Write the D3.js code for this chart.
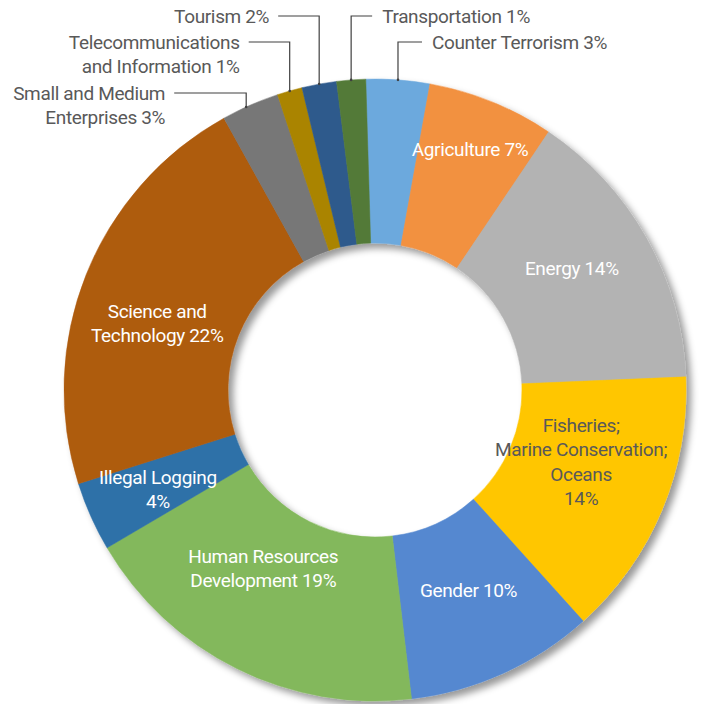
<!DOCTYPE html>
<html>
<head>
<meta charset="utf-8">
<script src="https://cdn.jsdelivr.net/npm/d3@7"></script>
<style>
  html, body { margin: 0; padding: 0; background: #fff; }
  svg { display: block; }
  text { font-family: Roboto, "Open Sans", sans-serif; font-size: 19px; letter-spacing: -0.35px; }
</style>
</head>
<body>
<script>
'use strict';

// slice order clockwise from the top
const categories = [
  'Counter Terrorism', 'Agriculture', 'Energy',
  'Fisheries; Marine Conservation; Oceans', 'Gender',
  'Human Resources Development', 'Illegal Logging', 'Science and Technology',
  'Small and Medium Enterprises', 'Telecommunications and Information',
  'Tourism', 'Transportation'
];
// shares (angles), labels keep the rounded figures
const shares = [3.3, 6.6, 14.9, 14.0, 9.8, 18.4, 3.6, 21.8, 3.0, 1.3, 1.8, 1.5];
const shownPct = [3, 7, 14, 14, 10, 19, 4, 22, 3, 1, 2, 1];
const labelLines = [
  ['Counter Terrorism 3%'],
  ['Agriculture 7%'],
  ['Energy 14%'],
  ['Fisheries;', 'Marine Conservation;', 'Oceans', '14%'],
  ['Gender 10%'],
  ['Human Resources', 'Development 19%'],
  ['Illegal Logging', '4%'],
  ['Science and', 'Technology 22%'],
  ['Small and Medium', 'Enterprises 3%'],
  ['Telecommunications', 'and Information 1%'],
  ['Tourism 2%'],
  ['Transportation 1%']
];
const colors = [
  '#6ca9dd', '#f29141', '#b3b3b3', '#ffc600', '#5588d0', '#83b85c',
  '#2e71a8', '#ae5b0e', '#777777', '#aa8400', '#2f5a8c', '#527a38'
];

const width = 708, height = 704;
const cx = 375, cy = 390;
const outerR = 311, innerR = 147;
const lineH = 24.5;
const startDeg = -1.7;

// label placement (layout only)
const insideNudge = {
  1: [9, -28], 2: [-3, -10], 3: [-5, -17], 4: [-1, -8], 5: [-10, -27],
  6: [-8, 6], 7: [-5, 18]
};
const darkInside = { 3: true };
const outside = {
  0: { y: 42, side: 'right', gap: 34 },
  11: { y: 16, side: 'right', gap: 31 },
  10: { y: 16, side: 'left', gap: 50 },
  9: { y: 42, side: 'left', gap: 50 },
  8: { y: 93, side: 'left', gap: 81, shift: -4 }
};

const svg = d3.select('body').append('svg')
  .attr('width', width)
  .attr('height', height);

const defs = svg.append('defs');
defs.append('filter')
  .attr('id', 'shadow')
  .attr('x', '-10%').attr('y', '-10%')
  .attr('width', '125%').attr('height', '125%')
  .append('feDropShadow')
  .attr('dx', 5).attr('dy', 5)
  .attr('stdDeviation', 3.5)
  .attr('flood-color', '#000')
  .attr('flood-opacity', 0.4);

const pie = d3.pie()
  .sort(null)
  .value(d => d)
  .startAngle(startDeg * Math.PI / 180)
  .endAngle(2 * Math.PI + startDeg * Math.PI / 180);

const arcs = pie(shares);

const arc = d3.arc()
  .innerRadius(innerR)
  .outerRadius(outerR);

const g = svg.append('g')
  .attr('transform', `translate(${cx},${cy})`);

g.append('g')
  .attr('filter', 'url(#shadow)')
  .selectAll('path')
  .data(arcs)
  .join('path')
  .attr('d', arc)
  .attr('fill', (d, i) => colors[i])
  .attr('stroke', (d, i) => colors[i])
  .attr('stroke-width', 0.5);

// labels inside the ring
const labelG = g.append('g');
arcs.forEach((d, i) => {
  if (outside[i]) return;
  const [x0, y0] = arc.centroid(d);
  const [nx, ny] = insideNudge[i] || [0, 0];
  const lines = labelLines[i];
  const x = x0 + nx;
  const y = y0 + ny - (lines.length - 1) * lineH / 2;
  const t = labelG.append('text')
    .attr('text-anchor', 'middle')
    .attr('fill', darkInside[i] ? '#595959' : '#ffffff')
    .attr('x', x)
    .attr('y', y);
  lines.forEach((ln, k) => {
    t.append('tspan')
      .attr('x', x)
      .attr('dy', k === 0 ? '0.35em' : lineH)
      .text(ln);
  });
});

// labels outside with elbow leader lines
const leaderG = svg.append('g');
arcs.forEach((d, i) => {
  const o = outside[i];
  if (!o) return;
  const a = (d.startAngle + d.endAngle) / 2;
  const px = cx + outerR * Math.sin(a) + (o.shift || 0);
  const py = cy - Math.sqrt(outerR * outerR - (px - cx) * (px - cx));
  const lx = o.side === 'right' ? px + o.gap - 10 : px - o.gap + 9;
  leaderG.append('path')
    .attr('d', `M${px},${py} L${px},${o.y} L${lx},${o.y}`)
    .attr('fill', 'none')
    .attr('stroke', '#404040')
    .attr('stroke-width', 1.2);
  leaderG.append('circle')
    .attr('cx', px).attr('cy', py).attr('r', 1.3)
    .attr('fill', '#404040');
  const tx = o.side === 'right' ? px + o.gap : px - o.gap;
  const t = leaderG.append('text')
    .attr('text-anchor', o.side === 'right' ? 'start' : 'end')
    .attr('fill', '#595959')
    .attr('x', tx)
    .attr('y', o.y);
  labelLines[i].forEach((ln, k) => {
    t.append('tspan')
      .attr('x', tx)
      .attr('dy', k === 0 ? '0.35em' : lineH)
      .text(ln);
  });
});
</script>
</body>
</html>
